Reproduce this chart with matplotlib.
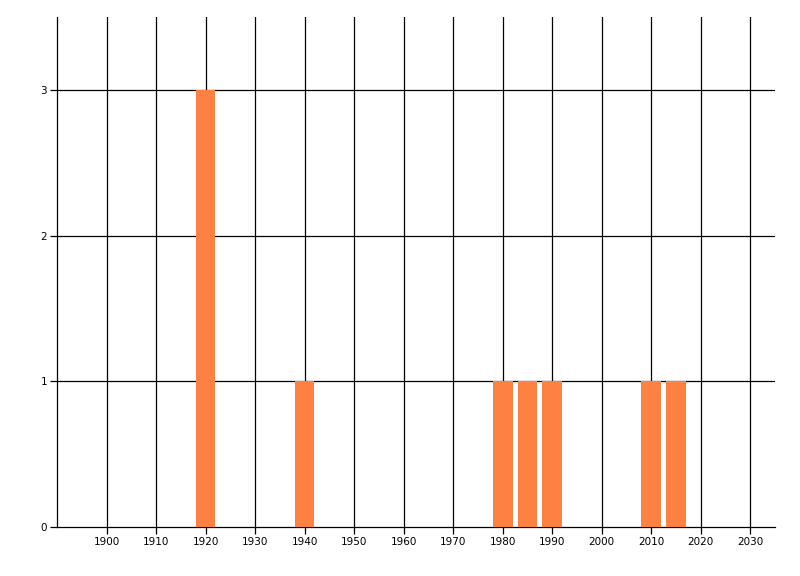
import matplotlib
matplotlib.use("Agg")
import matplotlib.pyplot as plt

years = [1920, 1940, 1980, 1985, 1990, 2010, 2015]
counts = [3, 1, 1, 1, 1, 1, 1]
xticks = list(range(1900, 2031, 10))
yticks = [0, 1, 2, 3]

fig = plt.figure(figsize=(8, 5.76), dpi=100)
ax = fig.add_axes([57/800, 1-527/576, (775-57)/800, (527-17)/576])
ax.bar(years, counts, width=4, color='#FF8142', zorder=3)
ax.set_xlim(1890, 2035)
ax.set_ylim(0, 3.5)
ax.set_xticks(xticks)
ax.set_yticks(yticks)
for x in xticks:
    ax.axvline(x, color='black', lw=0.9, zorder=1)
for y in yticks[1:]:
    ax.axhline(y, color='black', lw=0.9, zorder=1)
for s in ['top', 'right']:
    ax.spines[s].set_visible(False)
for s in ['left', 'bottom']:
    ax.spines[s].set_linewidth(0.9)
ax.tick_params(axis='both', length=5, width=0.9, labelsize=7.5, colors='black', pad=2)
fig.savefig('out.png', dpi=100)
